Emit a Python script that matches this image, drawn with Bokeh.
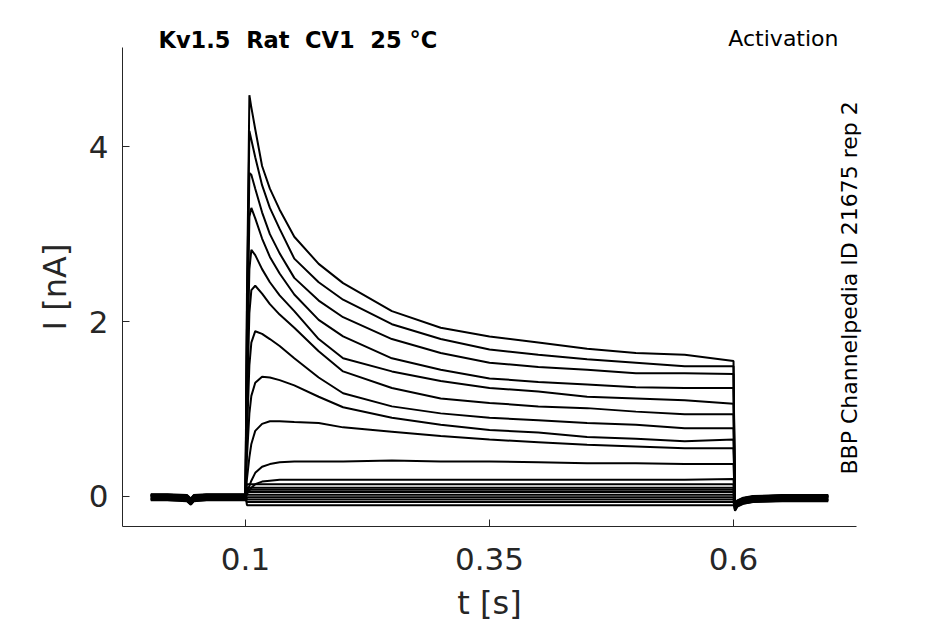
import math
from bokeh.plotting import figure
from bokeh.models import Label, Range1d, FixedTicker, ColumnDataSource
from bokeh.embed import file_html
from bokeh.resources import INLINE

# ---- data ----
# time grid (s) during the voltage step
T_STEP = [0.1, 0.1015, 0.104, 0.106, 0.110, 0.117, 0.125, 0.135, 0.15, 0.175,
          0.2, 0.25, 0.3, 0.35, 0.4, 0.45, 0.5, 0.55, 0.6]

# large traces, current in nA at T_STEP
L1 = [0, 2.3, 4.59, 4.45, 4.2, 3.78, 3.52, 3.28, 2.97, 2.66, 2.44, 2.12, 1.93, 1.83, 1.76, 1.69, 1.64, 1.62, 1.55]
L2 = [0, 2.1, 4.18, 4.08, 3.88, 3.56, 3.30, 3.06, 2.72, 2.45, 2.25, 1.97, 1.80, 1.68, 1.62, 1.57, 1.53, 1.49, 1.49]
L3 = [0, 1.9, 3.70, 3.68, 3.52, 3.25, 3.00, 2.78, 2.50, 2.24, 2.05, 1.80, 1.64, 1.53, 1.48, 1.45, 1.41, 1.41, 1.40]
L4 = [0, 1.6, 3.20, 3.30, 3.18, 2.95, 2.74, 2.55, 2.31, 2.02, 1.83, 1.58, 1.45, 1.35, 1.31, 1.28, 1.25, 1.24, 1.24]
L5 = [0, 1.3, 2.60, 2.82, 2.76, 2.60, 2.45, 2.30, 2.12, 1.80, 1.58, 1.43, 1.32, 1.24, 1.20, 1.14, 1.12, 1.10, 1.06]
L6 = [0, 1.0, 2.10, 2.36, 2.41, 2.32, 2.20, 2.08, 1.93, 1.66, 1.43, 1.24, 1.12, 1.07, 1.03, 1.01, 0.97, 0.94, 0.94]
L7 = [0, 0.7, 1.50, 1.76, 1.89, 1.86, 1.80, 1.72, 1.58, 1.36, 1.18, 1.03, 0.95, 0.90, 0.87, 0.84, 0.82, 0.78, 0.78]
L8 = [0, 0.45, 0.95, 1.15, 1.30, 1.37, 1.36, 1.33, 1.27, 1.14, 1.02, 0.90, 0.82, 0.76, 0.73, 0.68, 0.66, 0.63, 0.65]
L9 = [0, 0.2, 0.45, 0.60, 0.75, 0.83, 0.86, 0.86, 0.85, 0.84, 0.79, 0.74, 0.69, 0.65, 0.62, 0.59, 0.57, 0.55, 0.55]
L10 = [0, 0.05, 0.12, 0.18, 0.27, 0.34, 0.37, 0.39, 0.40, 0.40, 0.40, 0.41, 0.40, 0.40, 0.39, 0.38, 0.38, 0.37, 0.37]
L11 = [0, 0.03, 0.07, 0.10, 0.14, 0.17, 0.18, 0.19, 0.19, 0.19, 0.19, 0.19, 0.19, 0.19, 0.19, 0.19, 0.19, 0.19, 0.20]
LARGE = [L1, L2, L3, L4, L5, L6, L7, L8, L9, L10, L11]

# small traces: steady level (nA) during the step
SMALL_LEVELS = [0.14, 0.10, 0.075, 0.05, 0.02, -0.01, -0.035, -0.065, -0.10]

# holding current before the step (shared shape) and per-trace offsets
T_PRE = [0.003, 0.02, 0.04, 0.044, 0.047, 0.06, 0.08, 0.0995]
I_PRE = [0.0, 0.0, -0.01, -0.05, -0.01, 0.0, 0.0, 0.0]
# tail current after the step
T_POST = [0.6015, 0.604, 0.61, 0.62, 0.65, 0.697]
I_POST = [-0.12, -0.07, -0.04, -0.02, -0.01, -0.01]
OFFSETS = [0.02, -0.02, 0.01, -0.03, 0.0, 0.015, -0.04, 0.005, -0.01, 0.025,
           -0.025, 0.01, -0.035, 0.0, 0.02, -0.015, -0.045, 0.005, -0.03, 0.015]

X_TICKS = [0.1, 0.35, 0.6]
Y_TICKS = [0, 2, 4]
X_AXIS_BOUNDS = (-0.026, 0.726)
Y_AXIS_BOUNDS = (-0.344, 5.135)

TITLE = "Kv1.5\u00a0 Rat\u00a0 CV1\u00a0 25 °C"
PROTOCOL = "Activation"
SIDE = "BBP Channelpedia ID 21675 rep 2"

# ---- build traces ----
traces = list(LARGE) + [[0] + [lv] * (len(T_STEP) - 1) for lv in SMALL_LEVELS]
xs, ys = [], []
for k, tr in enumerate(traces):
    off = OFFSETS[k % len(OFFSETS)]
    x = list(T_PRE) + list(T_STEP) + list(T_POST)
    y = [v + off for v in I_PRE] + [tr[0] + off] + list(tr[1:]) + [v + off for v in I_POST]
    xs.append(x)
    ys.append(y)

src = ColumnDataSource(dict(xs=xs, ys=ys))

TXT = "#262626"
FONT = "DejaVu Sans"

# canvas-wide frame; axes are pinned inside it so that text around them is not clipped
W, H = 945, 624
FX0, FX1, FY0, FY1 = 122, 856, 47, 526      # pixel box of the axes in the reference
sx = (FX1 - FX0) / (X_AXIS_BOUNDS[1] - X_AXIS_BOUNDS[0])
sy = (FY1 - FY0) / (Y_AXIS_BOUNDS[1] - Y_AXIS_BOUNDS[0])
xr = Range1d(X_AXIS_BOUNDS[0] - FX0 / sx, X_AXIS_BOUNDS[1] + (W - FX1) / sx)
yr = Range1d(Y_AXIS_BOUNDS[0] - (H - FY1) / sy, Y_AXIS_BOUNDS[1] + FY0 / sy)

def px_x(px):
    return xr.start + px / sx

def px_y(py):
    return yr.end - py / sy

p = figure(width=W, height=H, output_backend="svg", toolbar_location=None,
           x_range=xr, y_range=yr,
           min_border_left=0, min_border_right=0, min_border_top=0, min_border_bottom=0)
p.title.visible = False
p.outline_line_color = None
p.grid.visible = False
p.background_fill_color = "white"
p.border_fill_color = "white"

p.multi_line(xs="xs", ys="ys", source=src, line_color="black", line_width=2.0)

for ax in (p.xaxis[0], p.yaxis[0]):
    ax.axis_line_color = TXT
    ax.major_tick_line_color = TXT
    ax.major_tick_in = 7
    ax.major_tick_out = 0
    ax.minor_tick_line_color = None
    ax.major_label_text_font = FONT
    ax.major_label_text_color = TXT
    ax.major_label_text_font_size = "31px"
    ax.axis_label_text_font = FONT
    ax.axis_label_text_color = TXT
    ax.axis_label_text_font_size = "32px"
    ax.axis_label_text_font_style = "normal"

p.xaxis.fixed_location = Y_AXIS_BOUNDS[0]
p.yaxis.fixed_location = X_AXIS_BOUNDS[0]
p.xaxis.bounds = X_AXIS_BOUNDS
p.yaxis.bounds = Y_AXIS_BOUNDS
p.xaxis.major_label_standoff = 21
p.yaxis.major_label_standoff = 14
p.xaxis.ticker = FixedTicker(ticks=X_TICKS)
p.yaxis.ticker = FixedTicker(ticks=Y_TICKS)
p.xaxis.major_label_overrides = {0.1: "0.1", 0.35: "0.35", 0.6: "0.6"}
p.xaxis.axis_label = "t [s]"
p.yaxis.axis_label = "I [nA]"
p.xaxis.axis_label_standoff = 11
p.yaxis.axis_label_standoff = 12

p.add_layout(Label(x=px_x(158), y=px_y(39), text=TITLE,
                   text_font=FONT, text_font_style="bold",
                   text_font_size="22.5px", text_color="black", text_baseline="alphabetic"))
p.add_layout(Label(x=px_x(838), y=px_y(38), text=PROTOCOL,
                   text_font=FONT, text_font_size="22px", text_color="black",
                   text_align="right", text_baseline="alphabetic"))
p.add_layout(Label(x=px_x(849), y=px_y(474), text=SIDE,
                   text_font=FONT, angle=math.pi / 2,
                   text_font_size="22px", text_color="black", text_align="left",
                   text_baseline="alphabetic"))

open("out.html", "w").write(file_html(p, INLINE))
